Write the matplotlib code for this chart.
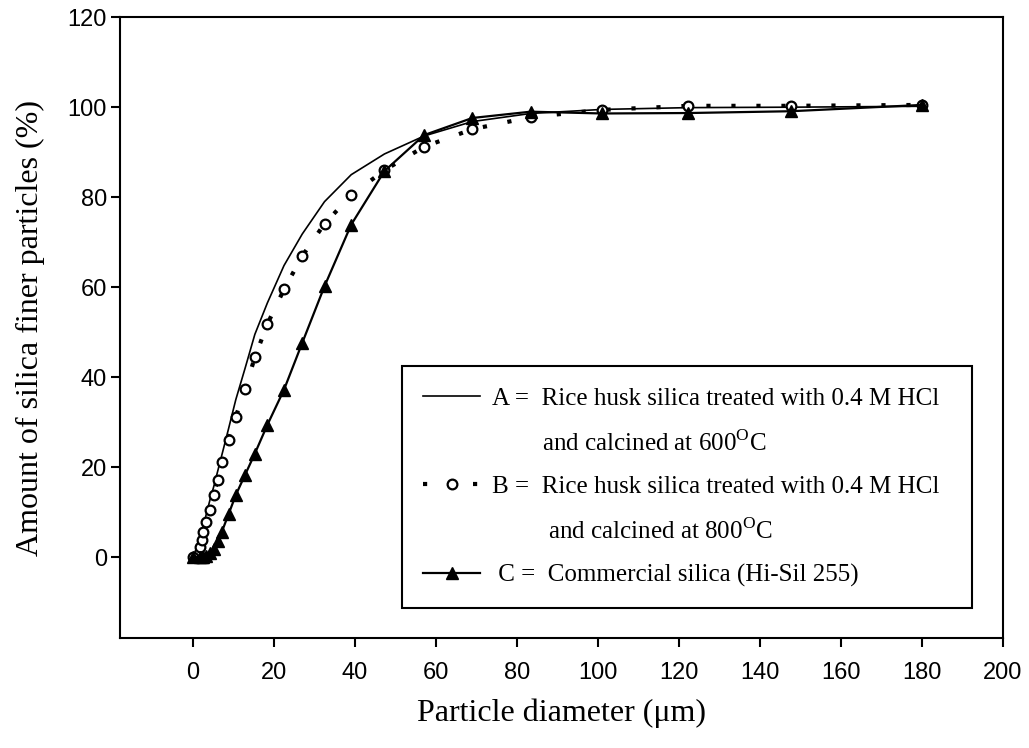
import matplotlib
matplotlib.use("Agg")
import matplotlib.pyplot as plt
from matplotlib.lines import Line2D

plt.rcParams['mathtext.fontset'] = 'custom'
plt.rcParams['mathtext.rm'] = 'Liberation Serif'

# Particle diameter (um)
size = [0, 1.8, 2.2, 2.6, 3.3, 4.3, 5.1, 6.1, 7.1, 8.8, 10.6, 12.9, 15.3, 18.4,
        22.5, 27.0, 32.5, 39.1, 47.3, 57.1, 69.0, 83.4, 101.0, 122.3, 147.7, 180.0]
# Amount of silica finer particles (%)
series_a = [0, 4, 5.5, 7, 9.5, 13, 15.5, 19, 22.5, 28.5, 35, 42, 49.5, 56.5,
            64.8, 71.8, 79, 85, 89.6, 93.6, 96.8, 98.6, 99.5, 99.9, 100, 100.2]
series_b = [0, 2.3, 3.8, 5.6, 7.9, 10.5, 13.8, 17.1, 21.2, 26.1, 31.2, 37.4, 44.4, 51.8,
            59.5, 66.9, 74.1, 80.4, 86.0, 91.2, 95.1, 97.8, 99.4, 100.3, 100.3, 100.5]
series_c = [0, 0, 0, 0, 0.3, 0.8, 1.8, 3.5, 5.5, 9.5, 13.8, 18.3, 23.0, 29.4,
            37.2, 47.6, 60.2, 73.9, 85.8, 93.8, 97.6, 99.0, 98.6, 98.7, 99.1, 100.5]

label_a = "A =  Rice husk silica treated with 0.4 M HCl"
label_a2 = "        and calcined at 600$^{\\mathrm{O}}$C"
label_b = "B =  Rice husk silica treated with 0.4 M HCl"
label_b2 = "         and calcined at 800$^{\\mathrm{O}}$C"
label_c = " C =  Commercial silica (Hi-Sil 255)"

xticks = [0, 20, 40, 60, 80, 100, 120, 140, 160, 180, 200]
yticks = [0, 20, 40, 60, 80, 100, 120]

fig = plt.figure(figsize=(10.29, 7.48), dpi=100)
ax = fig.add_axes([0.1166, 0.147, 0.858, 0.83])

la, = ax.plot(size, series_a, color='black', lw=1.2)
lb, = ax.plot(size, series_b, color='black', lw=3, ls=(0, (1, 5)),
              marker='o', ms=7, mfc='white', mec='black', mew=1.6)
lc, = ax.plot(size, series_c, color='black', lw=1.6,
              marker='^', ms=8, mfc='black', mec='black')

ax.set_xlim(-18, 200)
ax.set_ylim(-18, 120)
ax.set_xticks(xticks)
ax.set_yticks(yticks)
for s in ax.spines.values():
    s.set_linewidth(1.5)
ax.tick_params(direction='out', length=6.5, width=1.5)
ax.tick_params(axis='x', pad=11)
ax.tick_params(axis='y', pad=3)
for t in ax.get_xticklabels() + ax.get_yticklabels():
    t.set_fontfamily('Liberation Sans')
    t.set_fontsize(17)

ax.set_xlabel("Particle diameter (\u03bcm)", fontfamily='Liberation Serif',
              fontsize=23, labelpad=10)
ax.set_ylabel("Amount of silica finer particles (%)", fontfamily='Liberation Serif',
              fontsize=23, labelpad=16)

blank = Line2D([], [], color='none')
leg = ax.legend([la, blank, lb, blank, lc],
                [label_a, label_a2, label_b, label_b2, label_c],
                loc='upper left', bbox_to_anchor=(0.319, 0.053, 0.646, 0.385),
                mode='expand', prop={'family': 'Liberation Serif', 'size': 18},
                frameon=True, fancybox=False, shadow=False, framealpha=1,
                edgecolor='black', handlelength=2.3, handletextpad=0.45,
                labelspacing=0.8, borderpad=0.85, numpoints=1, borderaxespad=0)
leg.get_frame().set_linewidth(1.5)

fig.savefig("out.png", dpi=100)
